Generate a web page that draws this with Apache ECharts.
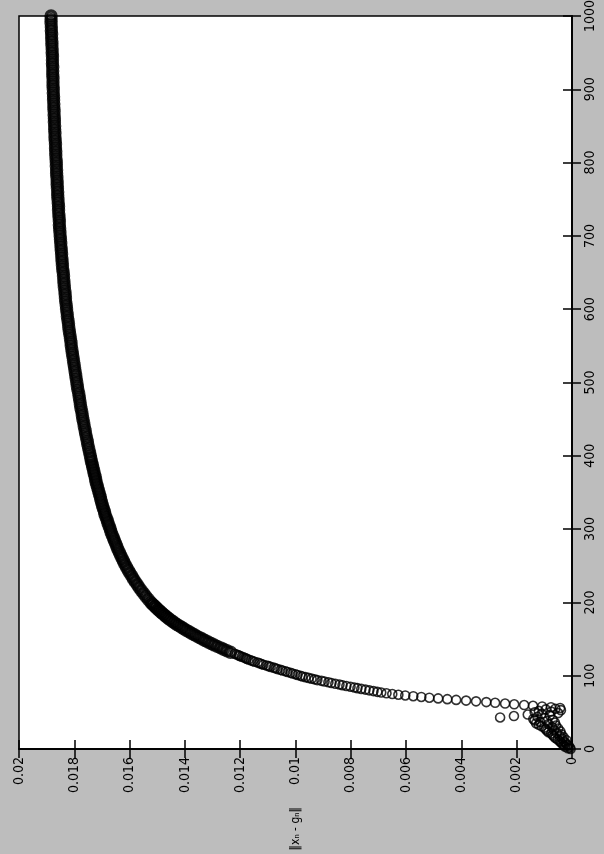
<!DOCTYPE html>
<html>
<head>
<meta charset="utf-8">
<script src="https://cdn.jsdelivr.net/npm/echarts@6/dist/echarts.min.js"></script>
<style>
  html, body { margin: 0; padding: 0; background: #bdbdbd; }
  #chart { width: 604px; height: 854px; }
</style>
</head>
<body>
<div id="chart"></div>
<script>
// ||x_n - g_n|| read off the scan, grouped by how densely n is sampled
// n = 0..130, every n
const errA = [
  0.00005, 0.00015, 0.00008, 0.00025, 0.00012, 0.00030, 0.00018, 0.00035, 0.00022, 0.00040,
  0.00028, 0.00045, 0.00020, 0.00052, 0.00035, 0.00060, 0.00030, 0.00065, 0.00045, 0.00070,
  0.00038, 0.00075, 0.00055, 0.00085, 0.00042, 0.00090, 0.00065, 0.00095, 0.00050, 0.00100,
  0.00072, 0.00110, 0.00058, 0.00120, 0.00085, 0.00130, 0.00062, 0.00115, 0.00090, 0.00135,
  0.00070, 0.00140, 0.00100, 0.00260, 0.00125, 0.00210, 0.00080, 0.00160, 0.00110, 0.00050,
  0.00135, 0.00075, 0.00120, 0.00040, 0.00095, 0.00060, 0.00043, 0.00076, 0.00108, 0.00141,
  0.00173, 0.00209, 0.00242, 0.00278, 0.00310, 0.00347, 0.00383, 0.00419, 0.00451, 0.00484,
  0.00516, 0.00545, 0.00574, 0.00603, 0.00628, 0.00650, 0.00671, 0.00690, 0.00704, 0.00718,
  0.00733, 0.00747, 0.00762, 0.00776, 0.00787, 0.00801, 0.00816, 0.00830, 0.00841, 0.00856,
  0.00870, 0.00881, 0.00895, 0.00906, 0.00921, 0.00931, 0.00942, 0.00953, 0.00964, 0.00975,
  0.00982, 0.00993, 0.01000, 0.01011, 0.01018, 0.01029, 0.01036, 0.01047, 0.01054, 0.01065,
  0.01072, 0.01079, 0.01090, 0.01097, 0.01105, 0.01116, 0.01123, 0.01130, 0.01137, 0.01148,
  0.01155, 0.01162, 0.01170, 0.01177, 0.01181, 0.01188, 0.01195, 0.01202, 0.01206, 0.01213,
  0.01220
];
// n = 132..200, step 2
const errB = [
  0.01235, 0.01248, 0.01260, 0.01271, 0.01283, 0.01294, 0.01305, 0.01316, 0.01327, 0.01337,
  0.01347, 0.01357, 0.01366, 0.01376, 0.01385, 0.01395, 0.01404, 0.01412, 0.01421, 0.01429,
  0.01437, 0.01444, 0.01452, 0.01459, 0.01466, 0.01472, 0.01478, 0.01484, 0.01490, 0.01496,
  0.01502, 0.01507, 0.01513, 0.01518, 0.01523
];
// n = 204..400, step 4
const errC = [
  0.01532, 0.01541, 0.01549, 0.01557, 0.01565, 0.01572, 0.01579, 0.01586, 0.01592, 0.01599,
  0.01605, 0.01611, 0.01617, 0.01622, 0.01627, 0.01632, 0.01637, 0.01642, 0.01646, 0.01650,
  0.01655, 0.01658, 0.01663, 0.01667, 0.01670, 0.01674, 0.01678, 0.01681, 0.01685, 0.01689,
  0.01691, 0.01695, 0.01698, 0.01701, 0.01704, 0.01706, 0.01709, 0.01712, 0.01715, 0.01718,
  0.01721, 0.01723, 0.01725, 0.01728, 0.01730, 0.01733, 0.01735, 0.01738, 0.01740, 0.01742
];
// n = 405..1000, step 5
const errD = [
  0.01745, 0.01748, 0.01751, 0.01753, 0.01756, 0.01759, 0.01761, 0.01764, 0.01766, 0.01769,
  0.01771, 0.01773, 0.01776, 0.01778, 0.01780, 0.01782, 0.01784, 0.01787, 0.01789, 0.01791,
  0.01793, 0.01795, 0.01797, 0.01799, 0.01801, 0.01803, 0.01805, 0.01807, 0.01809, 0.01811,
  0.01812, 0.01814, 0.01816, 0.01818, 0.01820, 0.01821, 0.01823, 0.01825, 0.01826, 0.01828,
  0.01829, 0.01831, 0.01832, 0.01833, 0.01834, 0.01836, 0.01837, 0.01838, 0.01839, 0.01840,
  0.01842, 0.01843, 0.01844, 0.01845, 0.01846, 0.01847, 0.01848, 0.01849, 0.01850, 0.01851,
  0.01852, 0.01853, 0.01854, 0.01854, 0.01855, 0.01856, 0.01857, 0.01857, 0.01858, 0.01859,
  0.01860, 0.01860, 0.01861, 0.01862, 0.01862, 0.01863, 0.01864, 0.01864, 0.01865, 0.01865,
  0.01866, 0.01867, 0.01867, 0.01868, 0.01868, 0.01869, 0.01870, 0.01870, 0.01871, 0.01871,
  0.01872, 0.01872, 0.01873, 0.01873, 0.01874, 0.01874, 0.01875, 0.01875, 0.01876, 0.01876,
  0.01877, 0.01877, 0.01877, 0.01878, 0.01878, 0.01878, 0.01879, 0.01879, 0.01879, 0.01880,
  0.01880, 0.01881, 0.01881, 0.01882, 0.01882, 0.01883, 0.01883, 0.01884, 0.01884, 0.01884
];

// pair each value with its n: [values, first n, step]
function toPoints(vals, n0, step) {
  return vals.map(function (v, i) { return [v, n0 + i * step]; });
}
const sparsePoints = toPoints(errA, 0, 1);
const densePoints = toPoints(errB, 132, 2)
  .concat(toPoints(errC, 204, 4))
  .concat(toPoints(errD, 405, 5));

const font = "'Liberation Sans Narrow', 'DejaVu Sans Condensed', 'Liberation Sans', sans-serif";
const black = { color: '#000', width: 1.5 };

const chart = echarts.init(document.getElementById('chart'));
chart.setOption({
  animation: false,
  grid: {
    left: 19, right: 32, top: 16, bottom: 105,
    outerBoundsMode: 'none', containLabel: false,
    show: true, backgroundColor: '#fff', borderColor: '#000', borderWidth: 1.5
  },
  xAxis: [
    {
      // the page is turned: this is the vertical axis of the original plot
      type: 'value', position: 'bottom', inverse: true,
      min: 0, max: 0.02, interval: 0.002,
      axisLine: { show: true, lineStyle: black },
      axisTick: { show: true, inside: true, length: 9, lineStyle: black },
      axisLabel: { rotate: 90, margin: 8, fontSize: 14, color: '#000', fontFamily: font },
      splitLine: { show: false },
      name: '‖xₙ - gₙ‖', nameLocation: 'middle', nameRotate: 90, nameGap: 58,
      nameTextStyle: { fontSize: 12, color: '#000', fontFamily: "'DejaVu Sans Condensed', 'DejaVu Sans', sans-serif" }
    },
    {
      type: 'value', position: 'top', inverse: true,
      min: 0, max: 0.02, interval: 0.002,
      axisLine: { show: true, lineStyle: black },
      axisTick: { show: true, inside: true, length: 9, lineStyle: black },
      axisLabel: { show: false },
      splitLine: { show: false }
    }
  ],
  yAxis: [
    {
      type: 'value', position: 'right',
      min: 0, max: 1000, interval: 100,
      axisLine: { show: true, lineStyle: black },
      axisTick: { show: true, inside: true, length: 9, lineStyle: black },
      axisLabel: {
        rotate: 90, margin: 11, fontSize: 14, color: '#000', fontFamily: font,
        formatter: function (v) { return String(v); }
      },
      splitLine: { show: false }
    },
    {
      type: 'value', position: 'left',
      min: 0, max: 1000, interval: 100,
      axisLine: { show: true, lineStyle: black },
      axisTick: { show: true, inside: true, length: 9, lineStyle: black },
      axisLabel: { show: false },
      splitLine: { show: false }
    }
  ],
  series: [
    {
      // small n: separate open circles
      type: 'scatter',
      xAxisIndex: 0, yAxisIndex: 0,
      data: sparsePoints,
      symbol: 'circle',
      symbolSize: 9,
      itemStyle: { color: 'rgba(0,0,0,0)', borderColor: '#000', borderWidth: 1.6 }
    },
    {
      // large n: circles pile up into a solid band
      type: 'scatter',
      xAxisIndex: 0, yAxisIndex: 0,
      data: densePoints,
      symbol: 'circle',
      symbolSize: 10,
      itemStyle: { color: 'rgba(0,0,0,0)', borderColor: '#000', borderWidth: 3.4 }
    }
  ]
});
</script>
</body>
</html>
